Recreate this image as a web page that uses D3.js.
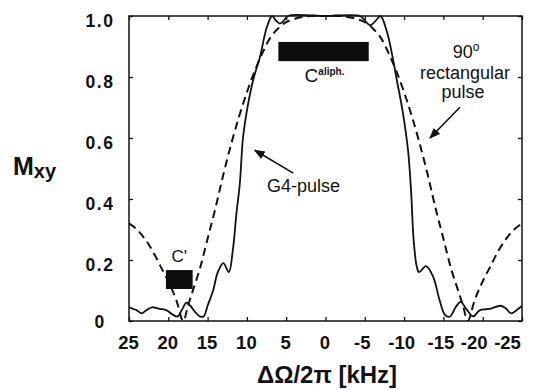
<!DOCTYPE html>
<html>
<head>
<meta charset="utf-8">
<script src="https://cdn.jsdelivr.net/npm/d3@7"></script>
<style>
  html, body { margin: 0; padding: 0; background: #fff; }
  svg { display: block; }
  text { font-family: "Liberation Sans", Arial, sans-serif; fill: #111; }
</style>
</head>
<body>
<script>
// Offset frequency ΔΩ/2π in kHz and transverse magnetisation Mxy
const rectFreq = [25, 24, 23, 22, 21, 20, 19, 18.1, 17.5, 17, 16, 15, 14, 13, 12, 11, 10, 9, 8, 7, 6, 5, 4, 2, 0,
                  -2, -4, -5, -6, -7, -8, -9, -10, -11, -12, -13, -14, -15, -16, -17, -17.5, -18.1, -19, -20, -21, -22, -23, -24, -25];
const rectMxy  = [0.32, 0.30, 0.27, 0.23, 0.18, 0.13, 0.07, 0.0, 0.05, 0.09, 0.17, 0.27, 0.37, 0.48, 0.58, 0.67, 0.75, 0.82, 0.88, 0.93, 0.96, 0.98, 0.99, 1.0, 1.0,
                  1.0, 0.99, 0.98, 0.96, 0.93, 0.88, 0.82, 0.75, 0.67, 0.58, 0.48, 0.37, 0.27, 0.17, 0.09, 0.05, 0.0, 0.07, 0.13, 0.18, 0.23, 0.27, 0.30, 0.32];

const g4Freq = [25, 24.5, 24, 23.4, 22.8, 22.1, 21.1, 20.2, 19.4, 18.8, 18.2, 17.7, 17.2, 16.6, 16.0, 15.5, 15.0, 14.3, 13.7, 13.0, 12.3,
                11.8, 11.3, 10.9, 10.5, 10.0, 9.2, 8.3, 7.5, 6.8, 6.3, 5.8, 5.3, 4.8, 0, -4.4, -5.0, -5.7, -6.4, -7.0, -7.8, -8.5,
                -9.0, -9.8, -10.5, -10.9, -11.2, -11.6, -11.9, -12.8, -13.7, -14.5, -15.2, -15.8, -16.6, -17.2, -17.9, -18.8,
                -19.6, -20.9, -22.3, -23.0, -23.6, -24.3, -25];
const g4Mxy  = [0.045, 0.04, 0.035, 0.025, 0.035, 0.045, 0.04, 0.035, 0.02, 0.015, 0.04, 0.06, 0.05, 0.03, 0.015, 0.015, 0.05, 0.10, 0.16, 0.19, 0.16,
                0.23, 0.36, 0.45, 0.60, 0.69, 0.79, 0.87, 0.96, 1.0, 0.985, 0.975, 0.985, 1.0, 1.0, 1.0, 0.985, 0.97, 0.985, 1.0, 0.95, 0.87,
                0.80, 0.69, 0.56, 0.42, 0.27, 0.18, 0.16, 0.18, 0.145, 0.07, 0.02, 0.014, 0.047, 0.063, 0.04, 0.015,
                0.035, 0.04, 0.05, 0.04, 0.025, 0.035, 0.05];

// Chemical-shift ranges of the carbon signals (kHz range, Mxy band)
const bandNames = ["C'", "C"];
const bandSup   = ["", "aliph."];
const bandFrom  = [20.3, 6.0];
const bandTo    = [16.9, -5.5];
const bandLow   = [0.105, 0.852];
const bandHigh  = [0.167, 0.915];

const xTicks = [25, 20, 15, 10, 5, 0, -5, -10, -15, -20, -25];
const yTicks = [0, 0.2, 0.4, 0.6, 0.8, 1.0];

const W = 533, H = 390;
const plot = { left: 129, right: 522, top: 16, bottom: 321 };

const x = d3.scaleLinear().domain([25, -25]).range([plot.left, plot.right]);
const y = d3.scaleLinear().domain([0, 1]).range([plot.bottom, plot.top]);

const svg = d3.select("body").append("svg").attr("width", W).attr("height", H);

const defs = svg.append("defs");
defs.append("marker")
  .attr("id", "head")
  .attr("viewBox", "0 0 10 10")
  .attr("refX", 9).attr("refY", 5)
  .attr("markerUnits", "userSpaceOnUse")
  .attr("markerWidth", 11).attr("markerHeight", 11)
  .attr("orient", "auto")
  .append("path").attr("d", "M0,1 L10,5 L0,9 Z").attr("fill", "#111");
defs.append("clipPath").attr("id", "plotClip")
  .append("rect")
  .attr("x", plot.left).attr("y", plot.top - 2)
  .attr("width", plot.right - plot.left).attr("height", plot.bottom - plot.top + 2);

// Axes with inward ticks on all four sides
const fmtY = d => d === 0 ? "0" : d.toFixed(1);
const fmtX = d => String(d);

const axL = svg.append("g").attr("transform", `translate(${plot.left},0)`)
  .call(d3.axisLeft(y).tickValues(yTicks).tickSize(-4).tickFormat(fmtY));
const axR = svg.append("g").attr("transform", `translate(${plot.right},0)`)
  .call(d3.axisRight(y).tickValues(yTicks).tickSize(-4).tickFormat(""));
const axB = svg.append("g").attr("transform", `translate(0,${plot.bottom})`)
  .call(d3.axisBottom(x).tickValues(xTicks).tickSize(-4).tickFormat(fmtX));
const axT = svg.append("g").attr("transform", `translate(0,${plot.top})`)
  .call(d3.axisTop(x).tickValues(xTicks).tickSize(-4).tickFormat(""));

[axL, axR, axB, axT].forEach(g => {
  g.select(".domain").remove();
  g.selectAll(".tick line").attr("stroke", "#111").attr("stroke-width", 1.3);
});

axL.selectAll("text")
  .attr("x", -29).attr("dy", null)
  .attr("y", d => d === 0 ? 6 : 10)
  .attr("text-anchor", "middle")
  .style("font-size", "17.5px").style("font-weight", "bold")
  .style("letter-spacing", "1.5px")
  .attr("fill", "#111");

// Bottom labels: the negative ones drift left so the last one stays inside the frame
const labelShift = d => d >= 0 ? -1 : d >= -15 ? -3 : d === -20 ? -9 : -15;
axB.selectAll("text")
  .attr("y", 28).attr("dy", null)
  .attr("x", labelShift)
  .attr("text-anchor", "middle")
  .style("font-size", "18.5px").style("font-weight", "bold")
  .attr("fill", "#111");

// Frame
svg.append("rect")
  .attr("x", plot.left).attr("y", plot.top)
  .attr("width", plot.right - plot.left).attr("height", plot.bottom - plot.top)
  .attr("fill", "none").attr("stroke", "#111").attr("stroke-width", 1.5);

// Excitation profiles
const line = d3.line()
  .x(d => x(d[0])).y(d => y(d[1]))
  .curve(d3.curveCatmullRom.alpha(0.5));

const curves = svg.append("g").attr("clip-path", "url(#plotClip)");

curves.append("path")
  .datum(d3.zip(rectFreq, rectMxy))
  .attr("d", line)
  .attr("fill", "none").attr("stroke", "#111")
  .attr("stroke-width", 2).attr("stroke-dasharray", "8,5");

curves.append("path")
  .datum(d3.zip(g4Freq, g4Mxy))
  .attr("d", line)
  .attr("fill", "none").attr("stroke", "#111")
  .attr("stroke-width", 1.8);

// Carbon chemical-shift bands
const bands = bandNames.map((n, i) => ({ name: n, sup: bandSup[i], from: bandFrom[i], to: bandTo[i], low: bandLow[i], high: bandHigh[i] }));

svg.selectAll(".band").data(bands).enter().append("rect")
  .attr("class", "band")
  .attr("x", d => x(d.from)).attr("width", d => x(d.to) - x(d.from))
  .attr("y", d => y(d.high)).attr("height", d => y(d.low) - y(d.high))
  .attr("fill", "#0d0d0d");

// C' label above its band
svg.append("text")
  .attr("x", x((bands[0].from + bands[0].to) / 2))
  .attr("y", y(bands[0].high) - 8)
  .attr("text-anchor", "middle")
  .style("font-size", "17px")
  .text(bands[0].name);

// C(aliph.) label below its band
const cal = svg.append("text")
  .attr("x", x((bands[1].from + bands[1].to) / 2) + 1)
  .attr("y", y(bands[1].low) + 21)
  .attr("text-anchor", "middle")
  .style("font-size", "19px");
cal.append("tspan").text(bands[1].name);
cal.append("tspan").attr("dy", -7).style("font-size", "10px").style("font-weight", "bold").text(bands[1].sup);

// Curve annotations
svg.append("text")
  .attr("x", 267).attr("y", 192)
  .style("font-size", "18px")
  .text("G4-pulse");
svg.append("line")
  .attr("x1", x(4.1)).attr("y1", y(0.485))
  .attr("x2", x(9.0)).attr("y2", y(0.56))
  .attr("stroke", "#111").attr("stroke-width", 1.6)
  .attr("marker-end", "url(#head)");

const rl = svg.append("text").attr("text-anchor", "middle").style("font-size", "18px");
const t90 = rl.append("tspan").attr("x", 466).attr("y", 58);
t90.append("tspan").text("90");
t90.append("tspan").attr("dy", -7).style("font-size", "12px").text("o");
rl.append("tspan").attr("x", 465).attr("y", 79).text("rectangular");
rl.append("tspan").attr("x", 463).attr("y", 98).text("pulse");
svg.append("line")
  .attr("x1", x(-17.1)).attr("y1", y(0.701))
  .attr("x2", x(-13.3)).attr("y2", y(0.60))
  .attr("stroke", "#111").attr("stroke-width", 1.6)
  .attr("marker-end", "url(#head)");

// Axis titles
const yt = svg.append("text").attr("x", 13).attr("y", 175).style("font-weight", "bold");
yt.append("tspan").style("font-size", "25px").text("M");
yt.append("tspan").attr("dy", 3).style("font-size", "20px").text("xy");

svg.append("text")
  .attr("x", 327).attr("y", 383)
  .attr("text-anchor", "middle")
  .style("font-size", "24px").style("font-weight", "bold")
  .text("ΔΩ/2π [kHz]");
</script>
</body>
</html>
